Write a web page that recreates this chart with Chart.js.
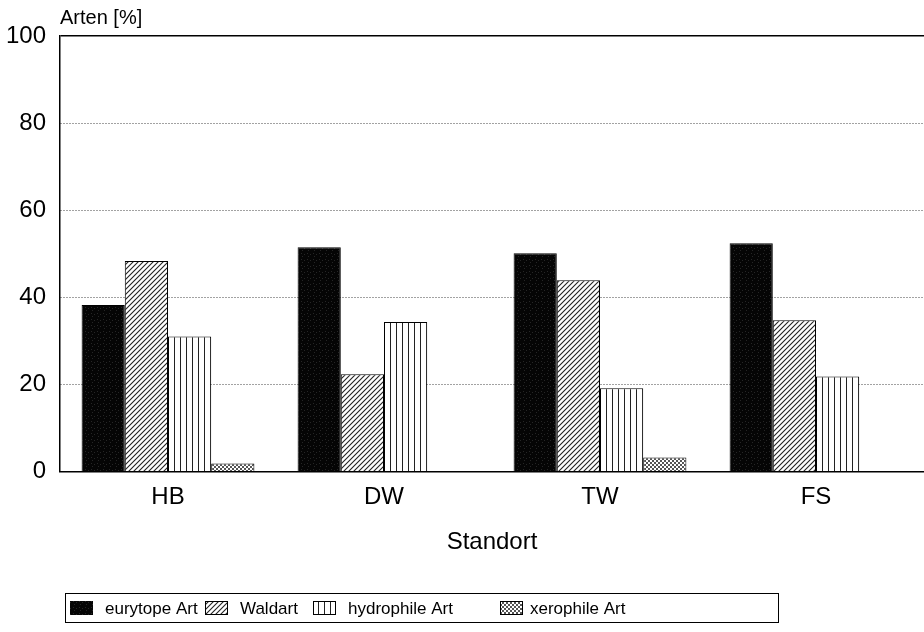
<!DOCTYPE html>
<html>
<head>
<meta charset="utf-8">
<script src="https://cdn.jsdelivr.net/npm/chart.js@4/dist/chart.umd.min.js"></script>
<style>
  html, body { margin: 0; padding: 0; background: #fff; }
  #wrap { width: 924px; height: 632px; position: relative; }
</style>
</head>
<body>
<div id="wrap"><canvas id="chart"></canvas></div>
<script>
const standorte = ['HB', 'DW', 'TW', 'FS'];
const seriesNames = ['eurytope Art', 'Waldart', 'hydrophile Art', 'xerophile Art'];
const eurytope = [38.2, 51.5, 50.1, 52.4];
const waldart = [48.3, 22.3, 43.9, 34.7];
const hydrophile = [31.0, 34.3, 19.1, 21.8];
const xerophile = [1.8, null, 3.2, null];
const yTicks = [0, 20, 40, 60, 80, 100];

const FONT = "'Liberation Sans', Arial, sans-serif";

// fill patterns like the old b/w print
function makePattern(size, draw) {
    const c = document.createElement('canvas');
    c.width = size; c.height = size;
    const g = c.getContext('2d');
    g.fillStyle = '#fff';
    g.fillRect(0, 0, size, size);
    draw(g, size);
    return document.createElement('canvas').getContext('2d').createPattern(c, 'repeat');
}

const patBlack = makePattern(6, (g, s) => {
    g.fillStyle = '#050505';
    g.fillRect(0, 0, s, s);
    g.fillStyle = '#262626';
    g.fillRect(1, 1, 1, 1);
    g.fillRect(4, 2, 1, 1);
    g.fillRect(2, 4, 1, 1);
});
const patDiag = makePattern(5, (g, s) => {
    g.strokeStyle = '#222';
    g.lineWidth = 1.1;
    g.beginPath();
    g.moveTo(-1, s + 1); g.lineTo(s + 1, -1);
    g.moveTo(-1, 1); g.lineTo(1, -1);
    g.moveTo(s - 1, s + 1); g.lineTo(s + 1, s - 1);
    g.stroke();
});
const patVert = makePattern(6, (g, s) => {
    g.fillStyle = '#222';
    g.fillRect(0, 0, 1, s);
});
const patCheck = makePattern(4, (g, s) => {
    g.fillStyle = '#555';
    g.fillRect(0, 0, 2, 2);
    g.fillRect(2, 2, 2, 2);
});
const fills = [patBlack, patDiag, patVert, patCheck];
const values = [eurytope, waldart, hydrophile, xerophile];

const extras = {
    id: 'extras',
    afterDraw(chart) {
        const ctx = chart.ctx;
        const area = chart.chartArea;
        ctx.save();
        // axis heading top left
        ctx.fillStyle = '#000';
        ctx.font = '20px ' + FONT;
        ctx.textBaseline = 'middle';
        ctx.textAlign = 'left';
        ctx.fillText('Arten [%]', area.left, 18);

        // boxed legend
        ctx.strokeStyle = '#000';
        ctx.lineWidth = 1;
        ctx.strokeRect(65.5, 593.5, 713, 29);
        const swatchX = [70, 205, 313, 500];
        const textX = [105, 240, 348, 530];
        ctx.font = '17px ' + FONT;
        seriesNames.forEach((name, i) => {
            ctx.fillStyle = fills[i];
            ctx.fillRect(swatchX[i], 601, 23, 14);
            if (i > 0) {
                ctx.strokeStyle = '#000';
                ctx.strokeRect(swatchX[i] + 0.5, 601.5, 22, 13);
            }
            ctx.fillStyle = '#000';
            ctx.fillText(name, textX[i], 609);
        });
        ctx.restore();
    }
};

new Chart(document.getElementById('chart'), {
    type: 'bar',
    data: {
        labels: standorte,
        datasets: seriesNames.map((name, i) => ({
            label: name,
            data: values[i],
            backgroundColor: fills[i],
            borderColor: '#000',
            borderWidth: 1,
            categoryPercentage: 0.8,
            barPercentage: 1.0
        }))
    },
    options: {
        responsive: true,
        maintainAspectRatio: false,
        animation: false,
        layout: {
            padding: { top: 36, right: 0, bottom: 75, left: 0 }
        },
        scales: {
            x: {
                grid: { display: false },
                border: { display: true, color: '#000', width: 1.5 },
                ticks: {
                    color: '#000',
                    padding: 4,
                    font: { family: FONT, size: 24 }
                },
                title: {
                    display: true,
                    text: 'Standort',
                    color: '#000',
                    padding: { top: 12, bottom: 0 },
                    font: { family: FONT, size: 24 }
                }
            },
            y: {
                min: 0,
                max: 100,
                afterFit(scale) { scale.width = 60; },
                afterBuildTicks(scale) { scale.ticks = yTicks.map(v => ({ value: v })); },
                grid: {
                    drawTicks: false,
                    color: ctx => (ctx.tick && ctx.tick.value === 100) ? '#000' : '#444',
                    lineWidth: ctx => (ctx.tick && ctx.tick.value === 100) ? 1.5 : 1
                },
                border: {
                    display: true,
                    color: '#000',
                    width: 1.5,
                    dash: ctx => (ctx.tick && (ctx.tick.value === 100 || ctx.tick.value === 0)) ? [] : [1, 2]
                },
                ticks: {
                    color: '#000',
                    padding: 14,
                    font: { family: FONT, size: 24 }
                }
            }
        },
        plugins: {
            legend: { display: false },
            tooltip: { enabled: false },
            title: { display: false }
        }
    },
    plugins: [extras]
});
</script>
</body>
</html>
